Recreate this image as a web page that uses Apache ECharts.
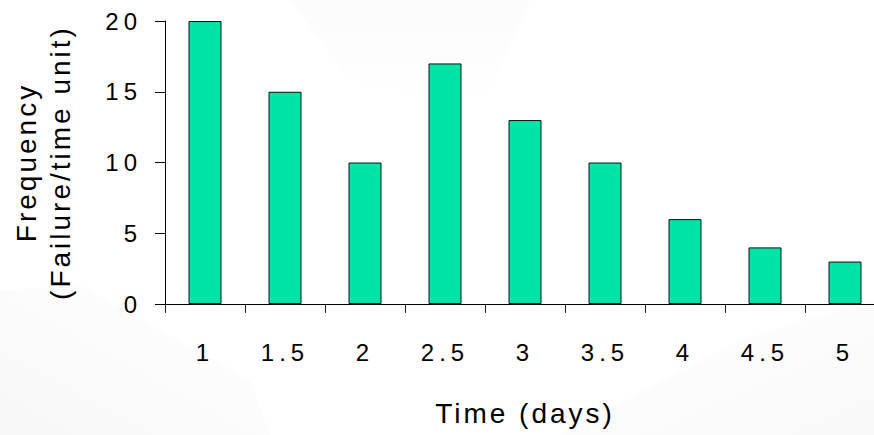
<!DOCTYPE html>
<html>
<head>
<meta charset="utf-8">
<script src="https://cdn.jsdelivr.net/npm/echarts@6/dist/echarts.min.js"></script>
<style>
  html, body { margin: 0; padding: 0; background: #fff; }
  #chart { width: 874px; height: 435px; }
</style>
</head>
<body>
<div id="chart"></div>
<script>
// Time points on the horizontal axis (days)
const categories = ['1', '1.5', '2', '2.5', '3', '3.5', '4', '4.5', '5'];
// Failure frequency for each time point
const frequency = [20, 15, 10, 17, 13, 10, 6, 4, 3];
// Value axis range and tick step
const yMin = 0;
const yMax = 20;
const yStep = 5;

const el = document.getElementById('chart');
const chart = echarts.init(el, null, { renderer: 'svg' });

// Soft grey backdrop washes behind the plot, fading out toward their edges
function wash(points, x, y, x2, y2, alpha) {
  return {
    type: 'polygon', z: -10, silent: true,
    shape: { points: points },
    style: {
      fill: new echarts.graphic.LinearGradient(x, y, x2, y2, [
        { offset: 0, color: 'rgba(0,0,0,' + alpha + ')' },
        { offset: 1, color: 'rgba(0,0,0,0)' }
      ])
    }
  };
}
const haze = [
  wash([[0, 290], [80, 285], [250, 380], [270, 435], [0, 435]], 0, 1, 1, 0, 0.03),
  wash([[560, 435], [740, 340], [874, 300], [874, 435]], 1, 1, 0, 0, 0.025),
  wash([[290, 0], [530, 0], [480, 110], [350, 80]], 0.5, 0, 0.5, 1, 0.015)
];

chart.setOption({
  animation: false,
  backgroundColor: '#ffffff',
  textStyle: { fontFamily: '"Liberation Sans", Arial, sans-serif' },
  graphic: haze,
  grid: { left: 165, right: -11, top: 21, bottom: 131, outerBoundsMode: 'none' },
  xAxis: {
    type: 'category',
    data: categories,
    boundaryGap: true,
    name: 'Time (days)',
    nameLocation: 'middle',
    nameGap: 95,
    nameTextStyle: { fontSize: 28, color: '#000' },
    axisLine: { show: true, lineStyle: { color: '#000', width: 1 } },
    axisTick: { show: true, length: 9, alignWithLabel: false, lineStyle: { color: '#222' } },
    axisLabel: { fontSize: 24, color: '#000', margin: 36, interval: 0 },
    splitLine: { show: false }
  },
  yAxis: {
    type: 'value',
    min: yMin,
    max: yMax,
    interval: yStep,
    name: 'Frequency\n(Failure/time unit)',
    nameLocation: 'middle',
    nameGap: 88,
    nameTextStyle: { fontSize: 28, lineHeight: 34, color: '#000' },
    axisLine: { show: true, lineStyle: { color: '#000', width: 1 } },
    axisTick: { show: true, length: 10, lineStyle: { color: '#000' } },
    axisLabel: { fontSize: 24, color: '#000', margin: 23 },
    splitLine: { show: false }
  },
  series: [{
    type: 'bar',
    data: frequency,
    barWidth: 33,
    itemStyle: { color: '#00E3A6', borderColor: '#111', borderWidth: 1 }
  }]
});

// Wide tracking on all chart text: a bit looser for tick labels than for axis titles
function applyTracking() {
  el.querySelectorAll('text').forEach(function (t) {
    const fs = parseFloat(getComputedStyle(t).fontSize);
    t.style.letterSpacing = fs >= 26 ? '3px' : '5px';
  });
}
applyTracking();
chart.on('finished', applyTracking);
</script>
</body>
</html>
